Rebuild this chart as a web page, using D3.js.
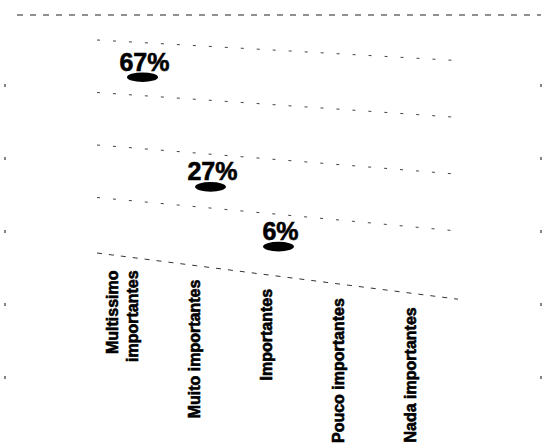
<!DOCTYPE html>
<html>
<head>
<meta charset="utf-8">
<script src="https://cdn.jsdelivr.net/npm/d3@7"></script>
<style>
  body { margin: 0; background: #fff; }
  svg { display: block; }
  text { font-family: "Liberation Sans", Arial, sans-serif; font-weight: bold; fill: #000; stroke: #000; }
</style>
</head>
<body>
<div id="chart"></div>
<script>
// data
var categories = ["Multissimo importantes", "Muito importantes", "Importantes", "Pouco importantes", "Nada importantes"];
var categoryLines = [["Multissimo", "importantes"], ["Muito importantes"], ["Importantes"], ["Pouco importantes"], ["Nada importantes"]];
var percentValues = [67, 27, 6, null, null];
var gridLevels = [20, 40, 60, 80];

var width = 544, height = 443;

var svg = d3.select('#chart').append('svg')
    .attr('width', width)
    .attr('height', height);

// plot area (left / right ends of the slanted gridlines)
var x0 = 97, x1 = 458;
var y = d3.scaleLinear().domain([0, 80]).range([250, 40]);
// gridlines slope down to the right, steeper near the floor
var tilt = function(v) { return 0.105 - 0.0006 * v; };
var floorY = function(x) { return y(0) + 3 + 0.128 * (x - x0); };

var xLabel = d3.scalePoint().domain(categories).range([124, 412]);
var xMark = d3.scalePoint().domain(categories).range([142.5, 414.5]);
var markY = function(v, x) { return y(v) + 0.068 * (x - x0); };

// faint frame round the picture
svg.append('line')
    .attr('x1', 17).attr('x2', 541).attr('y1', 15).attr('y2', 15)
    .attr('stroke', '#222').attr('stroke-width', 1.2)
    .attr('stroke-dasharray', '6,7');
svg.selectAll('line.side')
    .data([5, 541])
    .enter().append('line')
    .attr('class', 'side')
    .attr('x1', d => d).attr('x2', d => d)
    .attr('y1', 84).attr('y2', height)
    .attr('stroke', '#333').attr('stroke-width', 1.2)
    .attr('stroke-dasharray', '3,70');

// gridlines
svg.selectAll('line.grid')
    .data(gridLevels)
    .enter().append('line')
    .attr('class', 'grid')
    .attr('x1', x0).attr('y1', d => y(d))
    .attr('x2', x1).attr('y2', d => y(d) + tilt(d) * (x1 - x0))
    .attr('stroke', '#444').attr('stroke-width', 1)
    .attr('stroke-dasharray', '3,13');

// floor line
svg.append('line')
    .attr('x1', x0).attr('y1', floorY(x0))
    .attr('x2', x1).attr('y2', floorY(x1))
    .attr('stroke', '#333').attr('stroke-width', 1)
    .attr('stroke-dasharray', '5,7');

// category labels, rotated
var cat = svg.selectAll('g.cat')
    .data(categories)
    .enter().append('g')
    .attr('class', 'cat');

cat.each(function(c, i) {
    var lines = categoryLines[i];
    var cx = xLabel(c);
    var top = floorY(cx) + 14;
    d3.select(this).selectAll('text')
        .data(lines)
        .enter().append('text')
        .attr('transform', function(t, j) {
            var bx = lines.length > 1 ? cx - 6 + j * 20 : cx + 4;
            return 'translate(' + bx + ',' + top + ') rotate(-90)';
        })
        .attr('text-anchor', 'end')
        .style('font-size', '16px')
        .style('stroke-width', '0.6px')
        .text(t => t);
});

// markers with their percentages
var marks = categories
    .map((c, i) => ({ cat: c, value: percentValues[i] }))
    .filter(d => d.value != null);

svg.selectAll('ellipse.mark')
    .data(marks)
    .enter().append('ellipse')
    .attr('class', 'mark')
    .attr('cx', d => xMark(d.cat))
    .attr('cy', d => markY(d.value, xMark(d.cat)))
    .attr('rx', 15.5).attr('ry', 4.8)
    .attr('fill', '#000');

svg.selectAll('text.pct')
    .data(marks)
    .enter().append('text')
    .attr('class', 'pct')
    .attr('x', d => xMark(d.cat) + 2)
    .attr('y', d => markY(d.value, xMark(d.cat)) - 6.5)
    .attr('text-anchor', 'middle')
    .style('font-size', '25px')
    .style('stroke-width', '0.6px')
    .text(d => d.value + '%');
</script>
</body>
</html>
